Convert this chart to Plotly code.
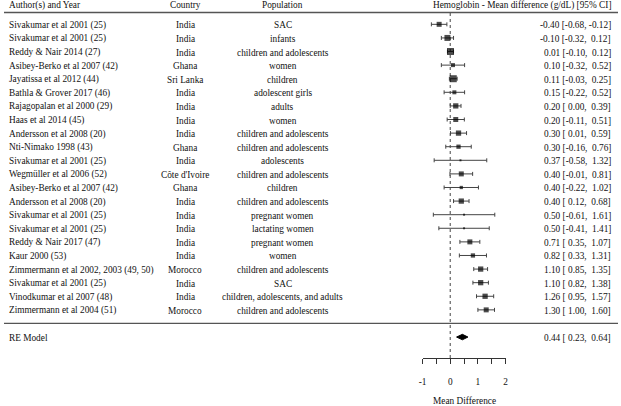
import plotly.graph_objects as go

W, H = 621, 406

authors = [
    "Sivakumar et al 2001 (25)", "Sivakumar et al 2001 (25)", "Reddy & Nair 2014 (27)",
    "Asibey-Berko et al 2007 (42)", "Jayatissa et al 2012 (44)", "Bathla & Grover 2017 (46)",
    "Rajagopalan et al 2000 (29)", "Haas et al 2014 (45)", "Andersson et al 2008 (20)",
    "Nti-Nimako 1998 (43)", "Sivakumar et al 2001 (25)", "Wegmüller et al 2006 (52)",
    "Asibey-Berko et al 2007 (42)", "Andersson et al 2008 (20)", "Sivakumar et al 2001 (25)",
    "Sivakumar et al 2001 (25)", "Reddy & Nair 2017 (47)", "Kaur 2000 (53)",
    "Zimmermann et al 2002, 2003 (49, 50)", "Sivakumar et al 2001 (25)",
    "Vinodkumar et al 2007 (48)", "Zimmermann et al 2004 (51)",
]
countries = [
    "India", "India", "India", "Ghana", "Sri Lanka", "India", "India", "India", "India",
    "Ghana", "India", "Côte d'Ivoire", "Ghana", "India", "India", "India", "India", "India",
    "Morocco", "India", "India", "Morocco",
]
populations = [
    "SAC", "infants", "children and adolescents", "women", "children", "adolescent girls",
    "adults", "women", "children and adolescents", "children and adolescents", "adolescents",
    "children and adolescents", "children", "children and adolescents", "pregnant women",
    "lactating women", "pregnant women", "women", "children and adolescents", "SAC",
    "children, adolescents, and adults", "children and adolescents",
]
estimates = [-0.40, -0.10, 0.01, 0.10, 0.11, 0.15, 0.20, 0.20, 0.30, 0.30, 0.37, 0.40,
             0.40, 0.40, 0.50, 0.50, 0.71, 0.82, 1.10, 1.10, 1.26, 1.30]
ci_low = [-0.68, -0.32, -0.10, -0.32, -0.03, -0.22, 0.00, -0.11, 0.01, -0.16, -0.58, -0.01,
          -0.22, 0.12, -0.61, -0.41, 0.35, 0.33, 0.85, 0.82, 0.95, 1.00]
ci_high = [-0.12, 0.12, 0.12, 0.52, 0.25, 0.52, 0.39, 0.51, 0.59, 0.76, 1.32, 0.81,
           1.02, 0.68, 1.61, 1.41, 1.07, 1.31, 1.35, 1.38, 1.57, 1.60]
# approximate study weights (%) read from square sizes
weights = [4.3, 5.4, 6.5, 3.2, 6.5, 3.2, 4.6, 4.3, 4.6, 3.5, 1.0, 4.3,
           2.4, 4.6, 1.0, 1.0, 4.3, 3.5, 4.6, 4.6, 4.6, 4.3]
re_label = "RE Model"
re_est, re_low, re_high = 0.44, 0.23, 0.64
x_ticks = [-1, -0.5, 0, 0.5, 1, 1.5, 2]
x_ticklabels = ["-1", "", "0", "", "1", "", "2"]
headers = ["Author(s) and Year", "Country", "Population",
           "Hemoglobin - Mean difference (g/dL) [95% CI]"]
x_title = "Mean Difference"

FONT = "Liberation Serif, Times New Roman, serif"
FS = 9.3
TXT = "#111111"

n = len(authors)
rows = list(range(n, 0, -1))
re_row = -1

wmin, wmax = min(weights), max(weights)
sizes = [2 + (w - wmin) / (wmax - wmin) * 5 for w in weights]

def fmt(v):
    s = f"{v:.2f}"
    return s if v < 0 else "\u00a0" + s

def ci_text(e, lo, hi):
    return f"{e:.2f} [{fmt(lo)},\u00a0{fmt(hi)}]"

fig = go.Figure()
fig.add_trace(go.Scatter(
    x=estimates, y=rows, mode="markers",
    marker=dict(symbol="square", size=sizes, color="black", line=dict(width=0)),
    error_x=dict(type="data", symmetric=False,
                 array=[h - e for e, h in zip(estimates, ci_high)],
                 arrayminus=[e - l for e, l in zip(estimates, ci_low)],
                 color="#444444", thickness=1, width=2),
    showlegend=False, hoverinfo="skip", cliponaxis=False,
))
dh = 0.2
fig.add_trace(go.Scatter(
    x=[re_low, re_est, re_high, re_est, re_low],
    y=[re_row, re_row + dh, re_row, re_row - dh, re_row],
    mode="lines", fill="toself", fillcolor="black",
    line=dict(color="black", width=1), showlegend=False, hoverinfo="skip",
))

ann = []
def px_x(p):
    return p / W
def px_y(p):
    return 1 - p / H

AX = 3
YS = -1
for i in range(n):
    y = rows[i]
    ann.append(dict(x=px_x(AX), y=y, xref="paper", yref="y", text=authors[i],
                    xanchor="left", yanchor="middle", showarrow=False, yshift=YS))
    ann.append(dict(x=px_x(183.3), y=y, xref="paper", yref="y", text=countries[i],
                    xanchor="center", yanchor="middle", showarrow=False, yshift=YS))
    ann.append(dict(x=px_x(282), y=y, xref="paper", yref="y", text=populations[i],
                    xanchor="center", yanchor="middle", showarrow=False, yshift=YS))
    ann.append(dict(x=px_x(615.5), y=y, xref="paper", yref="y",
                    text=ci_text(estimates[i], ci_low[i], ci_high[i]),
                    xanchor="right", yanchor="middle", showarrow=False, yshift=YS))
ann.append(dict(x=px_x(AX), y=re_row, xref="paper", yref="y", text=re_label,
                xanchor="left", yanchor="middle", showarrow=False, yshift=YS))
ann.append(dict(x=px_x(615.5), y=re_row, xref="paper", yref="y",
                text=ci_text(re_est, re_low, re_high),
                xanchor="right", yanchor="middle", showarrow=False, yshift=YS))
hy = px_y(5.5)
ann.append(dict(x=px_x(AX), y=hy, xref="paper", yref="paper", text=headers[0],
                xanchor="left", yanchor="middle", showarrow=False))
ann.append(dict(x=px_x(183.3), y=hy, xref="paper", yref="paper", text=headers[1],
                xanchor="center", yanchor="middle", showarrow=False))
ann.append(dict(x=px_x(282), y=hy, xref="paper", yref="paper", text=headers[2],
                xanchor="center", yanchor="middle", showarrow=False))
ann.append(dict(x=px_x(615.5), y=hy, xref="paper", yref="paper", text=headers[3],
                xanchor="right", yanchor="middle", showarrow=False))
ann.append(dict(x=0.5, y=px_y(400.5), xref="x", yref="paper", text=x_title,
                xanchor="center", yanchor="middle", showarrow=False))

shapes = [
    dict(type="line", xref="paper", yref="paper", x0=0, x1=1, y0=px_y(12.5), y1=px_y(12.5),
         line=dict(color="#555555", width=1.3)),
    dict(type="line", xref="paper", yref="y", x0=0, x1=1, y0=0, y1=0,
         line=dict(color="#555555", width=1.3)),
    dict(type="line", xref="x", yref="y domain", x0=0, x1=0, y0=0, y1=1,
         line=dict(color="#444444", width=1, dash="dot"), layer="below"),
]

fig.update_layout(
    width=W, height=H, margin=dict(l=0, r=0, t=0, b=0),
    paper_bgcolor="white", plot_bgcolor="white",
    font=dict(family=FONT, size=FS, color=TXT),
    annotations=ann, shapes=shapes, showlegend=False,
    xaxis=dict(domain=[px_x(423.3), px_x(507.3)], range=[-1, 2], showgrid=False,
               zeroline=False, showline=True, linecolor="#333333", linewidth=1,
               ticks="outside", ticklen=5, tickwidth=1, tickcolor="#333333",
               tickvals=x_ticks, ticktext=x_ticklabels, ticklabelstandoff=10,
               tickfont=dict(family=FONT, size=FS, color=TXT), fixedrange=True),
    yaxis=dict(domain=[px_y(358), px_y(12.5)], range=[-2.54, 22.87], visible=False,
               showgrid=False, zeroline=False, fixedrange=True),
)

fig.write_html("out.html", config={"displayModeBar": False},
               post_script="document.body.style.margin='0';document.body.style.overflow='hidden';")
